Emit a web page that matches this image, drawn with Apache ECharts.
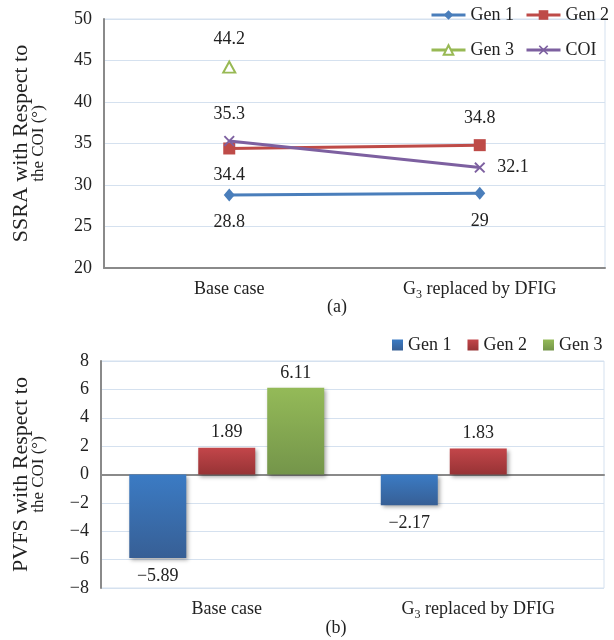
<!DOCTYPE html>
<html><head><meta charset="utf-8">
<script src="https://cdn.jsdelivr.net/npm/echarts@6/dist/echarts.min.js"></script>
<style>html,body{margin:0;padding:0;background:#fff}#c{width:614px;height:640px}</style>
</head><body><div id="c"></div>
<script>
const categories = ['Base case', 'G3 replaced by DFIG'];
// (a) SSRA with respect to the COI (deg)
const ssraGen1 = [28.8, 29];
const ssraGen2 = [34.4, 34.8];
const ssraGen3 = [44.2, null];
const ssraCOI  = [35.3, 32.1];
// (b) PVFS with respect to the COI (deg)
const pvfsGen1 = [-5.89, -2.17];
const pvfsGen2 = [1.89, 1.83];
const pvfsGen3 = [6.11, null];
const ssraTicks = {min: 20, max: 50, interval: 5};
const pvfsTicks = {min: -8, max: 8, interval: 2};

const FONT = '"Liberation Serif", "Times New Roman", serif';
const TXT = '#222';
const GRIDC = '#d5e1ef';
const AXC = '#8a8a8a';
const minus = s => String(s).replace('-', '\u2212');

function catLabel(v) {
  if (v.indexOf('G3') === 0) return '{n|G}{s|3}{n|' + v.slice(2) + '}';
  return '{n|' + v + '}';
}
const catRich = {
  n: {fontFamily: FONT, fontSize: 18, color: TXT, lineHeight: 24, verticalAlign: 'middle'},
  s: {fontFamily: FONT, fontSize: 12, color: TXT, lineHeight: 24, verticalAlign: 'bottom'}
};

// label positions for line points
const linePos = {
  'Gen 1': ['bottom', 'bottom'],
  'Gen 2': ['bottom', 'top'],
  'Gen 3': ['top', 'top'],
  'COI':   ['top', 'right']
};
function lineData(name, arr) {
  return arr.map((v, i) => v == null ? null : ({value: v, label: {position: linePos[name][i]}}));
}
function barData(arr) {
  return arr.map(v => v == null ? null : ({value: v, label: {position: v < 0 ? 'bottom' : 'top', distance: v < 0 ? 9 : 6}}));
}
function grad(c1, c2) {
  return new echarts.graphic.LinearGradient(0, 0, 0, 1, [{offset: 0, color: c1}, {offset: 1, color: c2}]);
}
const xPath = 'path://M0,1.2L1.2,0L5,3.8L8.8,0L10,1.2L6.2,5L10,8.8L8.8,10L5,6.2L1.2,10L0,8.8L3.8,5Z';

const lineLabel = {show: true, fontFamily: FONT, fontSize: 18, color: TXT, distance: 12};
const barLabel = {show: true, fontFamily: FONT, fontSize: 18, color: TXT, formatter: p => minus(p.value.toFixed(2))};
const barShadow = {shadowBlur: 4, shadowOffsetX: 2, shadowOffsetY: 2, shadowColor: 'rgba(0,0,0,0.35)'};
const nameRich = {
  a: {fontFamily: FONT, fontSize: 22, color: TXT, lineHeight: 17, align: 'center'},
  b: {fontFamily: FONT, fontSize: 17, color: TXT, lineHeight: 17, align: 'center'}
};
const legText = {fontFamily: FONT, fontSize: 18, color: TXT};

const chart = echarts.init(document.getElementById('c'), null, {renderer: 'canvas'});
chart.setOption({
  animation: false,
  textStyle: {fontFamily: FONT},
  grid: [
    {left: 104, top: 19, width: 501, height: 249, show: true, borderColor: GRIDC, borderWidth: 1, backgroundColor: 'transparent'},
    {left: 101, top: 361, width: 503, height: 227, show: true, borderColor: GRIDC, borderWidth: 1, backgroundColor: 'transparent'}
  ],
  legend: [
    {left: 430, top: 6, width: 260, padding: 0, itemWidth: 34, itemHeight: 12, itemGap: 11, lineStyle: {width: 3},
     data: ['Gen 1', 'Gen 2'], textStyle: legText},
    {left: 430, top: 41, width: 260, padding: 0, itemWidth: 34, itemHeight: 12, itemGap: 11, lineStyle: {width: 3},
     data: ['Gen 3', 'COI'], textStyle: legText},
    {left: 392, top: 336, width: 300, padding: 0, itemWidth: 11, itemHeight: 11, itemGap: 16, icon: 'rect',
     data: ['b-Gen 1', 'b-Gen 2', 'b-Gen 3'], formatter: n => n.replace('b-', ''), textStyle: legText}
  ],
  xAxis: [
    {type: 'category', gridIndex: 0, data: categories, boundaryGap: true,
     axisLine: {show: true, lineStyle: {color: AXC, width: 2}}, axisTick: {show: false},
     axisLabel: {margin: 9, formatter: catLabel, rich: catRich}},
    {type: 'category', gridIndex: 1, data: categories, boundaryGap: true,
     axisLine: {show: false, onZero: false}, axisTick: {show: false},
     axisLabel: {margin: 9, formatter: catLabel, rich: catRich}},
    {type: 'category', gridIndex: 1, data: categories, boundaryGap: true,
     axisLine: {show: true, onZero: true, lineStyle: {color: AXC, width: 2}}, axisTick: {show: false},
     axisLabel: {show: false}}
  ],
  yAxis: [
    {type: 'value', gridIndex: 0, min: ssraTicks.min, max: ssraTicks.max, interval: ssraTicks.interval,
     axisLine: {show: true, lineStyle: {color: AXC, width: 2}}, axisTick: {show: false},
     axisLabel: {fontFamily: FONT, fontSize: 18, color: TXT, margin: 12},
     splitLine: {lineStyle: {color: GRIDC, width: 1}},
     name: '{a|SSRA with Respect to}\n{b|the COI (°)}', nameLocation: 'middle', nameRotate: 90, nameGap: 57,
     nameTextStyle: {rich: nameRich}},
    {type: 'value', gridIndex: 1, min: pvfsTicks.min, max: pvfsTicks.max, interval: pvfsTicks.interval,
     axisLine: {show: true, lineStyle: {color: AXC, width: 2}}, axisTick: {show: false},
     axisLabel: {fontFamily: FONT, fontSize: 18, color: TXT, margin: 12, formatter: v => minus(v)},
     splitLine: {lineStyle: {color: GRIDC, width: 1}},
     name: '{a|PVFS with Respect to}\n{b|the COI (°)}', nameLocation: 'middle', nameRotate: 90, nameGap: 54,
     nameTextStyle: {rich: nameRich}}
  ],
  series: [
    {name: 'Gen 1', type: 'line', xAxisIndex: 0, yAxisIndex: 0, data: lineData('Gen 1', ssraGen1),
     symbol: 'diamond', symbolSize: [11, 13], lineStyle: {color: '#4a7ebb', width: 3}, itemStyle: {color: '#4a7ebb'},
     label: lineLabel, z: 5},
    {name: 'Gen 2', type: 'line', xAxisIndex: 0, yAxisIndex: 0, data: lineData('Gen 2', ssraGen2),
     symbol: 'rect', symbolSize: 12, lineStyle: {color: '#be4b48', width: 3}, itemStyle: {color: '#be4b48'},
     label: lineLabel, z: 4},
    {name: 'Gen 3', type: 'line', xAxisIndex: 0, yAxisIndex: 0, data: lineData('Gen 3', ssraGen3),
     symbol: 'emptyTriangle', symbolSize: [12, 11], showAllSymbol: true, lineStyle: {color: '#98b954', width: 3},
     itemStyle: {color: '#98b954', borderWidth: 1.2}, label: lineLabel, z: 4},
    {name: 'COI', type: 'line', xAxisIndex: 0, yAxisIndex: 0, data: lineData('COI', ssraCOI),
     symbol: xPath, symbolSize: 11, lineStyle: {color: '#7d60a0', width: 3}, itemStyle: {color: '#7d60a0'},
     label: lineLabel, z: 6},
    {name: 'b-Gen 1', type: 'bar', xAxisIndex: 1, yAxisIndex: 1, data: barData(pvfsGen1),
     barWidth: 57, barGap: '21%', itemStyle: Object.assign({color: grad('#3b7bc4', '#375f95')}, barShadow), label: barLabel},
    {name: 'b-Gen 2', type: 'bar', xAxisIndex: 1, yAxisIndex: 1, data: barData(pvfsGen2),
     barWidth: 57, barGap: '21%', itemStyle: Object.assign({color: grad('#c3464a', '#973335')}, barShadow), label: barLabel},
    {name: 'b-Gen 3', type: 'bar', xAxisIndex: 1, yAxisIndex: 1, data: barData(pvfsGen3),
     barWidth: 57, barGap: '21%', itemStyle: Object.assign({color: grad('#94ba58', '#74954a')}, barShadow), label: barLabel}
  ],
  graphic: [
    {type: 'text', x: 337, y: 307, style: {text: '(a)', font: '18px ' + FONT, fill: TXT, align: 'center', verticalAlign: 'middle'}},
    {type: 'text', x: 336, y: 628, style: {text: '(b)', font: '18px ' + FONT, fill: TXT, align: 'center', verticalAlign: 'middle'}}
  ]
});
</script></body></html>
